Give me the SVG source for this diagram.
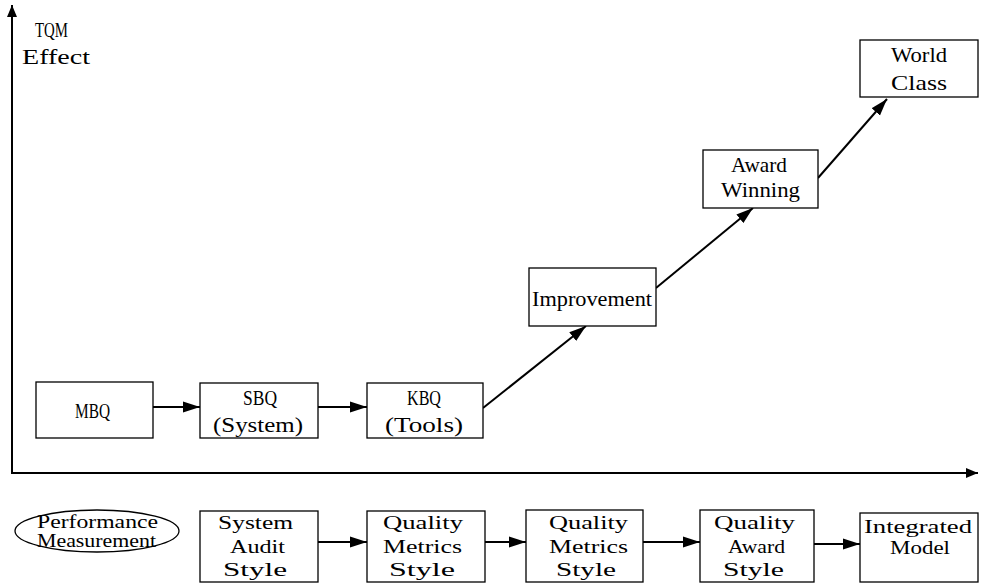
<svg xmlns="http://www.w3.org/2000/svg" width="984" height="583" viewBox="0 0 984 583">
<defs>
<marker id="ah" markerUnits="userSpaceOnUse" markerWidth="18" markerHeight="12" refX="17" refY="6" orient="auto">
<path d="M0,0.5 L17,6 L0,11.5 z" fill="#000"/>
</marker>
<marker id="axh" markerUnits="userSpaceOnUse" markerWidth="13" markerHeight="11" refX="12" refY="5" orient="auto">
<path d="M0,0 L12,5 L0,10 z" fill="#000"/>
</marker>
<style>
.box{fill:#fff;stroke:#000;stroke-width:1.3}
.t{font-family:"Liberation Serif","DejaVu Serif",serif;font-size:22px;fill:#000;text-anchor:middle}
.s{font-size:19px}
.c{stroke:#000;stroke-width:2;fill:none;marker-end:url(#ah)}
.ax{stroke:#000;stroke-width:2;fill:none;marker-end:url(#axh)}
</style>
</defs>
<rect width="984" height="583" fill="#fff"/>

<g id="axes">
<line class="ax" x1="12" y1="473" x2="12" y2="5"/>
<line class="ax" x1="11" y1="473" x2="978" y2="473"/>
<text class="t" x="51.5" y="37" textLength="33" lengthAdjust="spacingAndGlyphs">TQM</text>
<text class="t" x="56" y="64" textLength="68" lengthAdjust="spacingAndGlyphs">Effect</text>
</g>

<g id="connectors">
<line class="c" x1="153" y1="407" x2="200" y2="407"/>
<line class="c" x1="318" y1="407" x2="367" y2="407"/>
<line class="c" x1="483" y1="408" x2="586" y2="326"/>
<line class="c" x1="656" y1="288" x2="753" y2="208"/>
<line class="c" x1="818" y1="178" x2="887" y2="99"/>
<line class="c" x1="318" y1="542" x2="367" y2="542"/>
<line class="c" x1="485" y1="542" x2="526" y2="542"/>
<line class="c" x1="643" y1="542" x2="700" y2="542"/>
<line class="c" x1="814" y1="544" x2="860" y2="544"/>
</g>

<g id="mbq">
<rect class="box" x="36" y="382" width="117" height="56"/>
<text class="t" x="92.5" y="418" textLength="35" lengthAdjust="spacingAndGlyphs">MBQ</text>
</g>
<g id="sbq">
<rect class="box" x="200" y="383" width="118" height="55"/>
<text class="t" x="260" y="405" textLength="34" lengthAdjust="spacingAndGlyphs">SBQ</text>
<text class="t" x="258" y="432" textLength="90" lengthAdjust="spacingAndGlyphs">(System)</text>
</g>
<g id="kbq">
<rect class="box" x="367" y="383" width="116" height="55"/>
<text class="t" x="424" y="405" textLength="34" lengthAdjust="spacingAndGlyphs">KBQ</text>
<text class="t" x="424" y="432" textLength="78" lengthAdjust="spacingAndGlyphs">(Tools)</text>
</g>
<g id="improvement">
<rect class="box" x="529" y="268" width="127" height="58"/>
<text class="t" x="592" y="306" textLength="120" lengthAdjust="spacingAndGlyphs">Improvement</text>
</g>
<g id="award-winning">
<rect class="box" x="703" y="150" width="115" height="58"/>
<text class="t" x="759" y="172" textLength="56" lengthAdjust="spacingAndGlyphs">Award</text>
<text class="t" x="760.5" y="197" textLength="79" lengthAdjust="spacingAndGlyphs">Winning</text>
</g>
<g id="world-class">
<rect class="box" x="860" y="40" width="118" height="57"/>
<text class="t" x="919" y="62" textLength="56" lengthAdjust="spacingAndGlyphs">World</text>
<text class="t" x="919" y="90" textLength="56" lengthAdjust="spacingAndGlyphs">Class</text>
</g>

<g id="performance-measurement">
<ellipse class="box" cx="97" cy="531" rx="82" ry="21"/>
<text class="t s" x="97.5" y="528" textLength="121" lengthAdjust="spacingAndGlyphs">Performance</text>
<text class="t s" x="96.5" y="547" textLength="119" lengthAdjust="spacingAndGlyphs">Measurement</text>
</g>
<g id="system-audit-style">
<rect class="box" x="200" y="511" width="118" height="71"/>
<text class="t s" x="255.5" y="529" textLength="75" lengthAdjust="spacingAndGlyphs">System</text>
<text class="t s" x="257.5" y="553" textLength="55" lengthAdjust="spacingAndGlyphs">Audit</text>
<text class="t s" x="255" y="576" textLength="64" lengthAdjust="spacingAndGlyphs">Style</text>
</g>
<g id="quality-metrics-style-1">
<rect class="box" x="367" y="511" width="118" height="71"/>
<text class="t s" x="423" y="529" textLength="80" lengthAdjust="spacingAndGlyphs">Quality</text>
<text class="t s" x="422.5" y="553" textLength="79" lengthAdjust="spacingAndGlyphs">Metrics</text>
<text class="t s" x="422" y="576" textLength="66" lengthAdjust="spacingAndGlyphs">Style</text>
</g>
<g id="quality-metrics-style-2">
<rect class="box" x="526" y="510" width="117" height="72"/>
<text class="t s" x="588.5" y="529" textLength="79" lengthAdjust="spacingAndGlyphs">Quality</text>
<text class="t s" x="588.5" y="553" textLength="79" lengthAdjust="spacingAndGlyphs">Metrics</text>
<text class="t s" x="586" y="576" textLength="60" lengthAdjust="spacingAndGlyphs">Style</text>
</g>
<g id="quality-award-style">
<rect class="box" x="700" y="510" width="114" height="72"/>
<text class="t s" x="754.5" y="529" textLength="81" lengthAdjust="spacingAndGlyphs">Quality</text>
<text class="t s" x="756.5" y="553" textLength="57" lengthAdjust="spacingAndGlyphs">Award</text>
<text class="t s" x="753.5" y="576" textLength="61" lengthAdjust="spacingAndGlyphs">Style</text>
</g>
<g id="integrated-model">
<rect class="box" x="860" y="513" width="118" height="69"/>
<text class="t s" x="918" y="533" textLength="108" lengthAdjust="spacingAndGlyphs">Integrated</text>
<text class="t s" x="920" y="554" textLength="60" lengthAdjust="spacingAndGlyphs">Model</text>
</g>
</svg>
